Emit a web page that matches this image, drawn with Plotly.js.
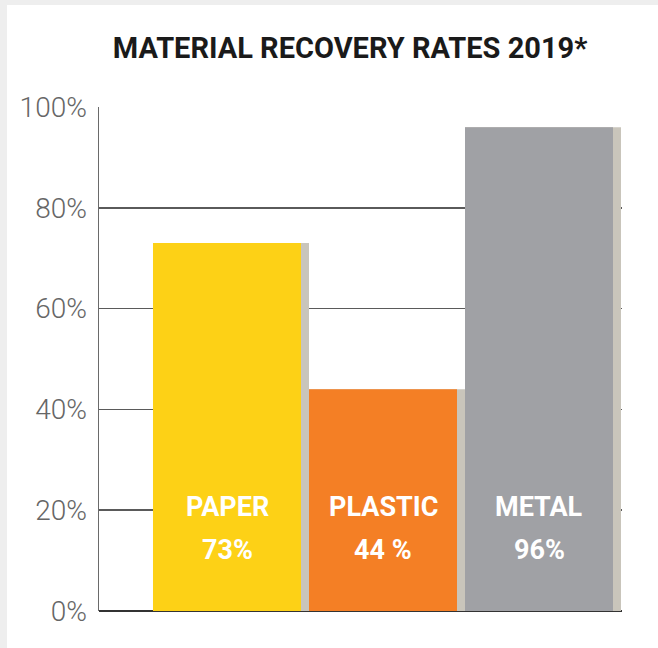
<!DOCTYPE html>
<html>
<head>
<meta charset="utf-8">
<script src="https://cdn.plot.ly/plotly-3.0.1.min.js"></script>
<style>
  html, body { margin: 0; padding: 0; background: #eeeeee; width: 658px; height: 648px; overflow: hidden; }
  #chart { position: absolute; left: 7px; top: 5px; width: 651px; height: 643px; background: #ffffff; }
</style>
</head>
<body>
<div id="chart"></div>
<script>
// ---- data ----
const categories = ["PAPER", "PLASTIC", "METAL"];
const rates = [73, 44, 96];
const rateLabels = ["73%", "44 %", "96%"];
const barColors = ["#FDD116", "#F47F25", "#A0A1A5"];
const shadowColor = "#C9C5BB";
const yTickVals = [0, 20, 40, 60, 80, 100];
const yTickText = ["0%", "20%", "40%", "60%", "80%", "100%"];

const xIdx = categories.map((c, i) => i);

const shadow = {
  type: "bar", x: xIdx, y: rates,
  width: xIdx.map(() => 1.0), offset: xIdx.map(() => -0.4744),
  marker: { color: shadowColor, line: { width: 0 } },
  hoverinfo: "skip", showlegend: false
};
const bars = {
  type: "bar", x: xIdx, y: rates,
  width: xIdx.map(() => 0.9487), offset: xIdx.map(() => -0.4744),
  marker: { color: barColors, line: { width: 0 } },
  hoverinfo: "skip", showlegend: false
};

const annotations = [];
categories.forEach((c, i) => {
  annotations.push({ x: i, y: 20.6, xref: "x", yref: "y", text: "<b>" + c + "</b>", showarrow: false,
    font: { family: "Roboto", size: 27, color: "#ffffff" }, xanchor: "center", yanchor: "middle" });
  annotations.push({ x: i, y: 12.1, xref: "x", yref: "y", text: "<b>" + rateLabels[i] + "</b>", showarrow: false,
    font: { family: "Roboto", size: 27, color: "#ffffff" }, xanchor: "center", yanchor: "middle" });
});

const layout = {
  width: 651, height: 643,
  paper_bgcolor: "#ffffff", plot_bgcolor: "#ffffff",
  margin: { l: 92, r: 36, t: 102, b: 37, pad: 0 },
  barmode: "overlay",
  title: {
    text: "<b>MATERIAL RECOVERY RATES 2019*</b>",
    font: { family: "Roboto", size: 29, color: "#1a1a1a" },
    x: 0.527, xref: "container", xanchor: "center",
    y: 0.933, yref: "container", yanchor: "middle"
  },
  xaxis: {
    range: [-0.8205, 2.532], showgrid: false, zeroline: false,
    showticklabels: false, ticks: "", showline: false, fixedrange: true
  },
  yaxis: {
    range: [0, 100], tickvals: yTickVals, ticktext: yTickText,
    showgrid: true, gridcolor: "#5a5a5a", gridwidth: 1.5,
    zeroline: true, zerolinecolor: "#333333", zerolinewidth: 2,
    showline: true, linecolor: "#6a6a6a", linewidth: 1.5,
    ticks: "", ticklabelstandoff: 5,
    tickfont: { family: "Roboto", size: 28, color: "#666666", weight: 300 },
    fixedrange: true
  },
  annotations: annotations
};

Plotly.newPlot("chart", [shadow, bars], layout, { displayModeBar: false, staticPlot: true });
</script>
</body>
</html>
